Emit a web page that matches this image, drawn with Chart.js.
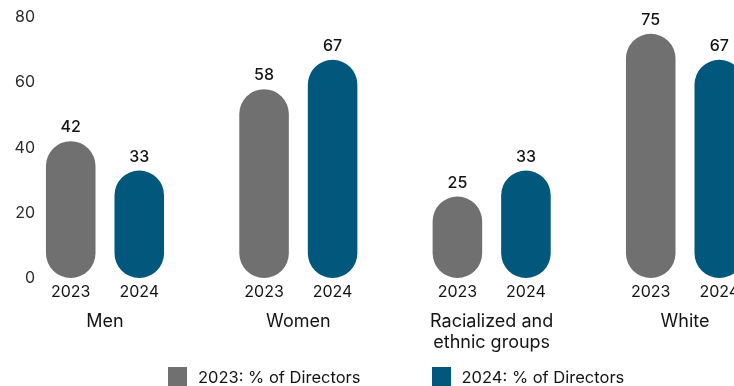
<!DOCTYPE html>
<html>
<head>
<meta charset="utf-8">
<script src="https://cdn.jsdelivr.net/npm/chart.js@4.4.1/dist/chart.umd.min.js"></script>
<style>
  html, body { margin: 0; padding: 0; background: #fff; overflow: hidden; }
  #wrap { position: relative; width: 734px; height: 386px; }
  #legend {
    position: absolute; left: 168px; top: 367px;
    display: flex; gap: 71px;
    font: 16.5px Inter, sans-serif; color: #141414;
  }
  #legend .item { display: flex; align-items: center; gap: 11px; height: 19px; }
  #legend .box { width: 19px; height: 19px; }
</style>
</head>
<body>
<div id="wrap">
  <canvas id="directorsChart" width="734" height="386"></canvas>
  <div id="legend"></div>
</div>
<script>
const categories = ['Men', 'Women', ['Racialized and', 'ethnic groups'], 'White'];
const years = ['2023', '2024'];
const directors2023 = [42, 58, 25, 75];
const directors2024 = [33, 67, 33, 67];
const yTicks = [0, 20, 40, 60, 80];

const GREY = '#707070';
const BLUE = '#02577c';
const TEXT = '#141414';
const FONT = 'Inter, sans-serif';

// values above each pill and the year under it
const barLabels = {
    id: 'barLabels',
    afterDatasetsDraw(chart) {
        const { ctx, chartArea } = chart;
        ctx.save();
        ctx.fillStyle = TEXT;
        ctx.textAlign = 'center';
        chart.data.datasets.forEach((ds, i) => {
            const meta = chart.getDatasetMeta(i);
            meta.data.forEach((bar, j) => {
                ctx.font = '500 16px ' + FONT;
                ctx.textBaseline = 'alphabetic';
                ctx.fillText(String(ds.data[j]), bar.x, bar.y - 9);
                ctx.font = '16px ' + FONT;
                ctx.textBaseline = 'middle';
                ctx.fillText(years[i], bar.x, chartArea.bottom + 14);
            });
        });
        ctx.restore();
    }
};

const chart = new Chart(document.getElementById('directorsChart'), {
    type: 'bar',
    data: {
        labels: categories,
        datasets: [
            { label: years[0] + ': % of Directors', data: directors2023, backgroundColor: GREY },
            { label: years[1] + ': % of Directors', data: directors2024, backgroundColor: BLUE }
        ]
    },
    options: {
        responsive: false,
        animation: false,
        clip: false,
        layout: { padding: { top: 17.5, right: 49, bottom: 0, left: 0 } },
        datasets: {
            bar: {
                categoryPercentage: 0.709,
                barPercentage: 0.723,
                borderRadius: 25,
                borderSkipped: false
            }
        },
        plugins: {
            legend: { display: false },
            tooltip: { enabled: false }
        },
        scales: {
            x: {
                offset: false,
                grid: { display: false, drawTicks: false },
                border: { display: false },
                ticks: {
                    color: TEXT,
                    font: { family: FONT, size: 18, lineHeight: 1.18 },
                    padding: 32.5,
                    maxRotation: 0,
                    autoSkip: false
                },
                afterFit(scale) {
                    scale.height = 108;
                    scale.paddingLeft = 0;
                    scale.paddingRight = 0;
                }
            },
            y: {
                min: 0,
                max: 80,
                grid: { display: false, drawTicks: false },
                border: { display: false },
                afterBuildTicks(scale) { scale.ticks = yTicks.map(v => ({ value: v })); },
                ticks: {
                    color: '#2b2b2b',
                    font: { family: FONT, size: 16 },
                    padding: 70
                },
                afterFit(scale) {
                    scale.width = 105;
                    scale.paddingTop = 0;
                    scale.paddingBottom = 0;
                }
            }
        }
    },
    plugins: [barLabels]
});

// legend built from the datasets
const legendEl = document.getElementById('legend');
chart.data.datasets.forEach(ds => {
    const item = document.createElement('div');
    item.className = 'item';
    const box = document.createElement('span');
    box.className = 'box';
    box.style.background = ds.backgroundColor;
    const txt = document.createElement('span');
    txt.textContent = ds.label;
    item.appendChild(box);
    item.appendChild(txt);
    legendEl.appendChild(item);
});
</script>
</body>
</html>
